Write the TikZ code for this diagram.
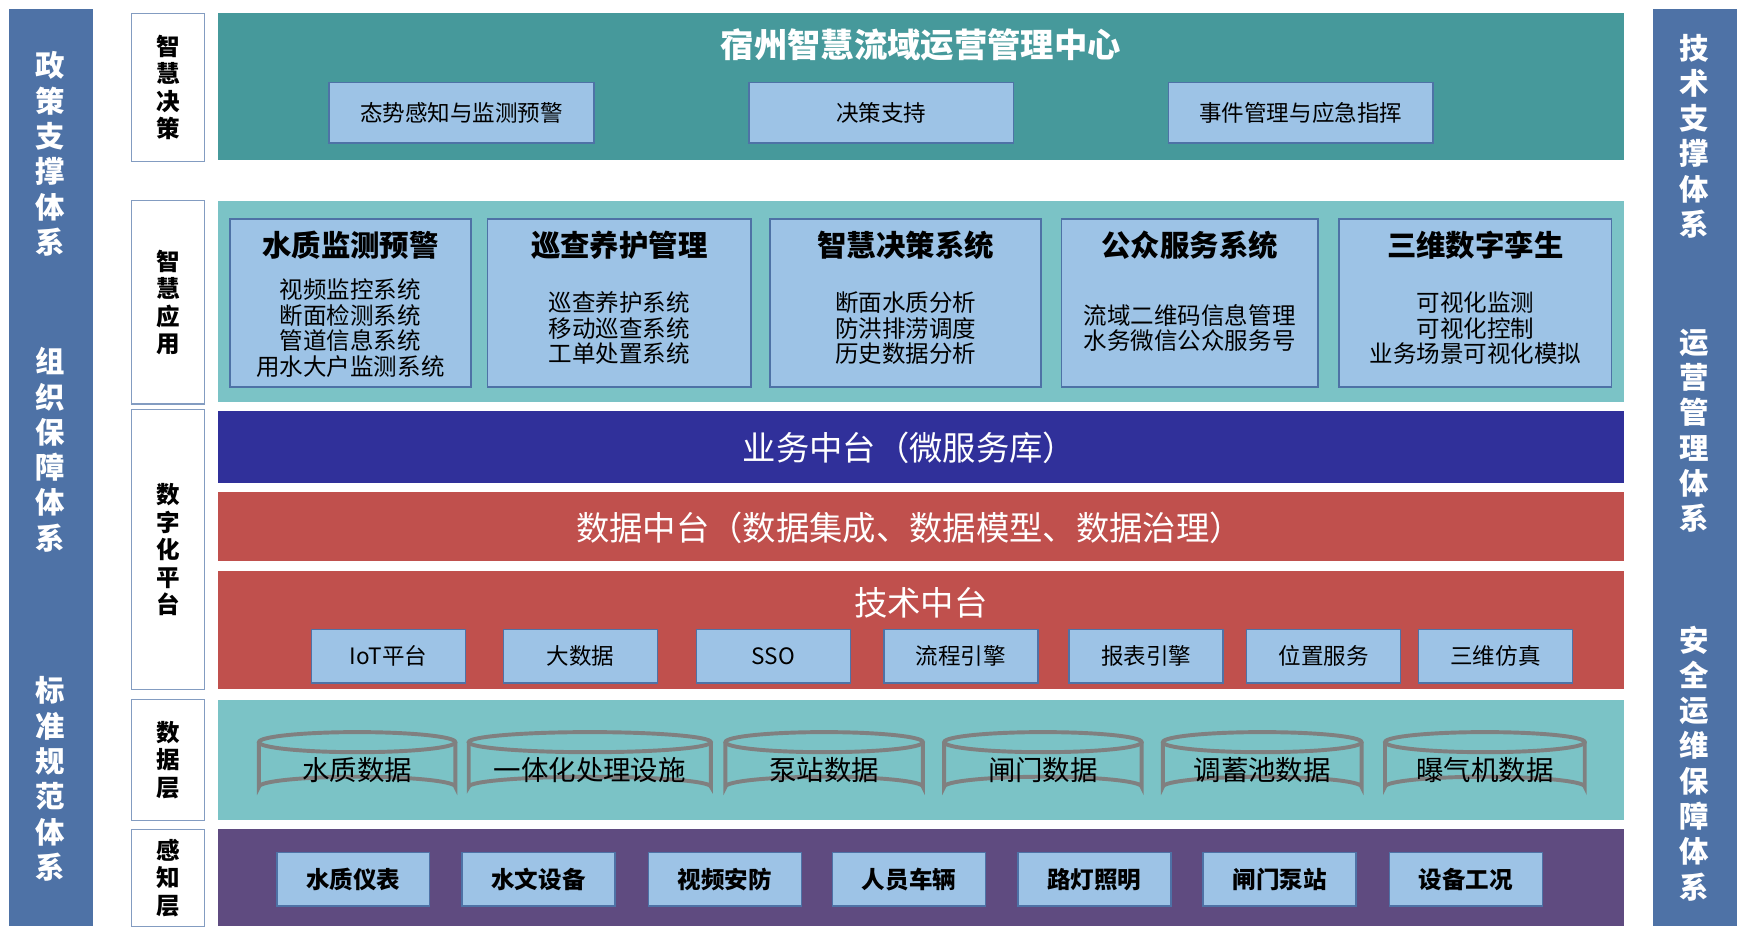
\documentclass[tikz,border=0pt]{standalone}
\usepackage{fontspec}
\setmainfont{Noto Sans CJK SC}
\usetikzlibrary{positioning}
\definecolor{sidebar}{HTML}{4E72A6}
\definecolor{teal1}{HTML}{46999B}
\definecolor{teal2}{HTML}{7BC3C6}
\definecolor{lblue}{HTML}{9DC3E6}
\definecolor{navy}{HTML}{30309A}
\definecolor{brick}{HTML}{C0504D}
\definecolor{plum}{HTML}{5F4B80}
\tikzset{
  band/.style={draw=none,inner sep=0},
  subbox/.style={draw=sidebar,fill=lblue,line width=0.8pt,font=\fontsize{11.5}{12}\selectfont},
  lbl/.style={draw=sidebar!70,fill=white,line width=0.6pt,font=\bfseries\fontsize{12}{14}\selectfont,align=center},
  side/.style={text=white,font=\bfseries\fontsize{15}{18}\selectfont,align=center}
}
\begin{document}
\begin{tikzpicture}[x=0.02cm,y=-0.02cm]
  \useasboundingbox (0,0) rectangle (1560,834);
  % side bars
  \fill[sidebar] (8,8) rectangle (83,830);
  \fill[sidebar] (1481,8) rectangle (1556,830);
  \node[side] (pol) at (45,138) {政\\策\\支\\撑\\体\\系};
  \node[side] (org) at (45,403) {组\\织\\保\\障\\体\\系};
  \node[side] (std) at (45,698) {标\\准\\规\\范\\体\\系};
  \node[side] (tec) at (1518,122) {技\\术\\支\\撑\\体\\系};
  \node[side] (ops) at (1518,386) {运\\营\\管\\理\\体\\系};
  \node[side] (sec) at (1518,684) {安\\全\\运\\维\\保\\障\\体\\系};
  % layer labels
  \foreach \t/\b/\txt/\n in {12/145/智\\慧\\决\\策/la,180/362/智\\慧\\应\\用/lb,367/618/数\\字\\化\\平\\台/lc,627/735/数\\据\\层/ld,743/830/感\\知\\层/le}
    {\draw[lbl] (118,\t) rectangle (183,\b);
     \node[lbl,draw=none,fill=none] (\n) at (150.5,{(\t+\b)/2}) {\txt};}
  % decision layer
  \fill[teal1] (195,12) rectangle (1455,143);
  \node[text=white,font=\bfseries\fontsize{17}{19}\selectfont] (center) at (825,40) {宿州智慧流域运营管理中心};
  \foreach \l/\txt/\n in {295/态势感知与监测预警/da,671/决策支持/db,1047/事件管理与应急指挥/dc}
    \node[subbox,minimum width=237*0.02cm,minimum height=54*0.02cm] (\n) at (\l+118.5,101) {\txt};
  % application layer
  \fill[teal2] (195,180) rectangle (1455,360);
  \foreach \l/\r/\ttl/\body/\n in {
    206/422/水质监测预警/视频监控系统\\断面检测系统\\管道信息系统\\用水大户监测系统/aa,
    437/673/巡查养护管理/巡查养护系统\\移动巡查系统\\工单处置系统/ab,
    690/933/智慧决策系统/断面水质分析\\防洪排涝调度\\历史数据分析/ac,
    951/1181/公众服务系统/流域二维码信息管理\\水务微信公众服务号/ad,
    1200/1444/三维数字孪生/可视化监测\\可视化控制\\业务场景可视化模拟/ae}
   {\draw[subbox] (\l,196) rectangle (\r,347);
    \node[font=\bfseries\fontsize{15}{17}\selectfont] (\n) at ({(\l+\r)/2},220) {\ttl};
    \node[font=\fontsize{12}{13}\selectfont,align=center] (\n b) at ({(\l+\r)/2},294) {\body};}
  % digital platform
  \fill[navy] (195,368) rectangle (1455,433);
  \node[text=white,font=\fontsize{17}{19}\selectfont] (biz) at (815,401) {业务中台（微服务库）};
  \fill[brick] (195,441) rectangle (1455,503);
  \node[text=white,font=\fontsize{17}{19}\selectfont] (dat) at (815,473) {数据中台（数据集成、数据模型、数据治理）};
  \fill[brick] (195,512) rectangle (1455,617);
  \node[text=white,font=\fontsize{17}{19}\selectfont] (tech) at (825,540) {技术中台};
  \foreach \l/\txt/\n in {279/IoT平台/ta,451/大数据/tb,624/SSO/tc,792/流程引擎/td,958/报表引擎/te,1117/位置服务/tf,1271/三维仿真/tg}
    \node[subbox,minimum width=138*0.02cm,minimum height=48*0.02cm] (\n) at (\l+69,588) {\txt};
  % data layer
  \fill[teal2] (195,627) rectangle (1455,735);
  \foreach \l/\r/\txt/\n in {232/408/水质数据/ca,420/637/一体化处理设施/cb,650/827/泵站数据/cc,846/1023/闸门数据/cd,1042/1220/调蓄池数据/ce,1241/1420/曝气机数据/cf}
   {\draw[gray,line width=2pt,fill=teal2] (\l,665) -- (\l,705) arc[start angle=180,end angle=360,x radius={(\r-\l)/2},y radius=9] -- (\r,665);
    \draw[gray,line width=2pt,fill=teal2] ({(\l+\r)/2},665) ellipse[x radius={(\r-\l)/2},y radius=9];
    \node[font=\fontsize{14}{16}\selectfont] (\n) at ({(\l+\r)/2},690) {\txt};}
  % perception layer
  \fill[plum] (195,743) rectangle (1455,830);
  \foreach \l/\txt/\n in {248/水质仪表/pa,414/水文设备/pb,581/视频安防/pc,746/人员车辆/pd,912/路灯照明/pe,1078/闸门泵站/pf,1245/设备工况/pg}
    \node[subbox,font=\bfseries\fontsize{12}{13}\selectfont,minimum width=137*0.02cm,minimum height=48*0.02cm] (\n) at (\l+68.5,788) {\txt};
\end{tikzpicture}
\end{document}
